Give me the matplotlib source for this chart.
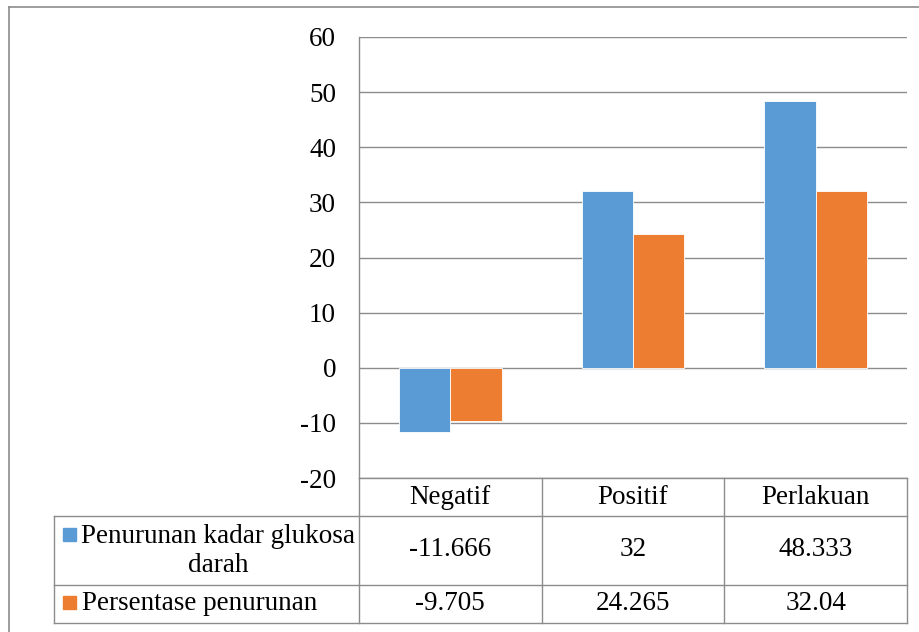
import matplotlib

matplotlib.use("Agg")
import matplotlib.pyplot as plt
from matplotlib import transforms
from matplotlib.lines import Line2D
from matplotlib.patches import Rectangle

categories = ["Negatif", "Positif", "Perlakuan"]
penurunan_kadar = [-11.666, 32, 48.333]
persentase = [-9.705, 24.265, 32.04]
value_labels_1 = ["-11.666", "32", "48.333"]
value_labels_2 = ["-9.705", "24.265", "32.04"]
series_names = ["Penurunan kadar glukosa\ndarah", "Persentase penurunan"]
y_ticks = [-20, -10, 0, 10, 20, 30, 40, 50, 60]

BLUE = "#5B9BD5"
ORANGE = "#ED7D31"
GRID = "#8C8C8C"
W, H = 920, 632

plt.rcParams["font.family"] = ["Liberation Serif", "DejaVu Serif"]
FS = 19.5

fig = plt.figure(figsize=(W / 100, H / 100), dpi=100)


def fx(x):
    return x / W


def fy(y):
    return 1 - y / H


ax = fig.add_axes([fx(359), fy(478), fx(907) - fx(359), fy(37) - fy(478)])

n = len(categories)
centers = [i + 0.5 for i in range(n)]
bw = 0.281
ax.bar([c - bw / 2 for c in centers], penurunan_kadar, width=bw, color=BLUE,
       edgecolor="white", linewidth=0.6, zorder=3)
ax.bar([c + bw / 2 for c in centers], persentase, width=bw, color=ORANGE,
       edgecolor="white", linewidth=0.6, zorder=3)

ax.set_xlim(0, n)
ax.set_ylim(-20, 60)
ax.set_yticks(y_ticks)
ax.set_yticklabels([str(t) for t in y_ticks], fontsize=FS)
ax.set_xticks([])
ax.tick_params(axis="y", length=0, pad=16.5)
ax.yaxis.grid(True, color=GRID, linewidth=1.0, zorder=0)
for s in ["top", "right"]:
    ax.spines[s].set_visible(False)
for s in ["left", "bottom"]:
    ax.spines[s].set_color(GRID)
    ax.spines[s].set_linewidth(1.0)

# data table below the plot
bt = transforms.blended_transform_factory(ax.transData, fig.transFigure)
for yy in [516, 585, 623]:
    fig.add_artist(Line2D([fx(54), fx(907)], [fy(yy), fy(yy)], color=GRID, lw=1.0))
fig.add_artist(Line2D([fx(54), fx(54)], [fy(516), fy(623)], color=GRID, lw=1.0))
for i in range(n + 1):
    ax.add_artist(Line2D([i, i], [fy(478), fy(623)], color=GRID, lw=1.0,
                         transform=bt, clip_on=False))

for c, name, v1, v2 in zip(centers, categories, value_labels_1, value_labels_2):
    ax.text(c, fy(497), name, transform=bt, ha="center", va="center", fontsize=FS)
    ax.text(c, fy(550), v1, transform=bt, ha="center", va="center", fontsize=FS)
    ax.text(c, fy(604), v2, transform=bt, ha="center", va="center", fontsize=FS)

fig.add_artist(Rectangle((fx(63), fy(541)), fx(13), fy(528) - fy(541), color=BLUE))
fig.text(fx(218), fy(551), series_names[0], ha="center", va="center",
         multialignment="center", fontsize=FS, linespacing=1.25)
fig.add_artist(Rectangle((fx(63), fy(609)), fx(13), fy(596) - fy(609), color=ORANGE))
fig.text(fx(82), fy(604), series_names[1], ha="left", va="center", fontsize=FS)

# outer chart frame
fig.add_artist(Line2D([fx(9), fx(9)], [fy(7), 0], color=GRID, lw=1.2))
fig.add_artist(Line2D([fx(9), 1], [fy(7), fy(7)], color=GRID, lw=1.2))

fig.savefig("out.png", dpi=100)
